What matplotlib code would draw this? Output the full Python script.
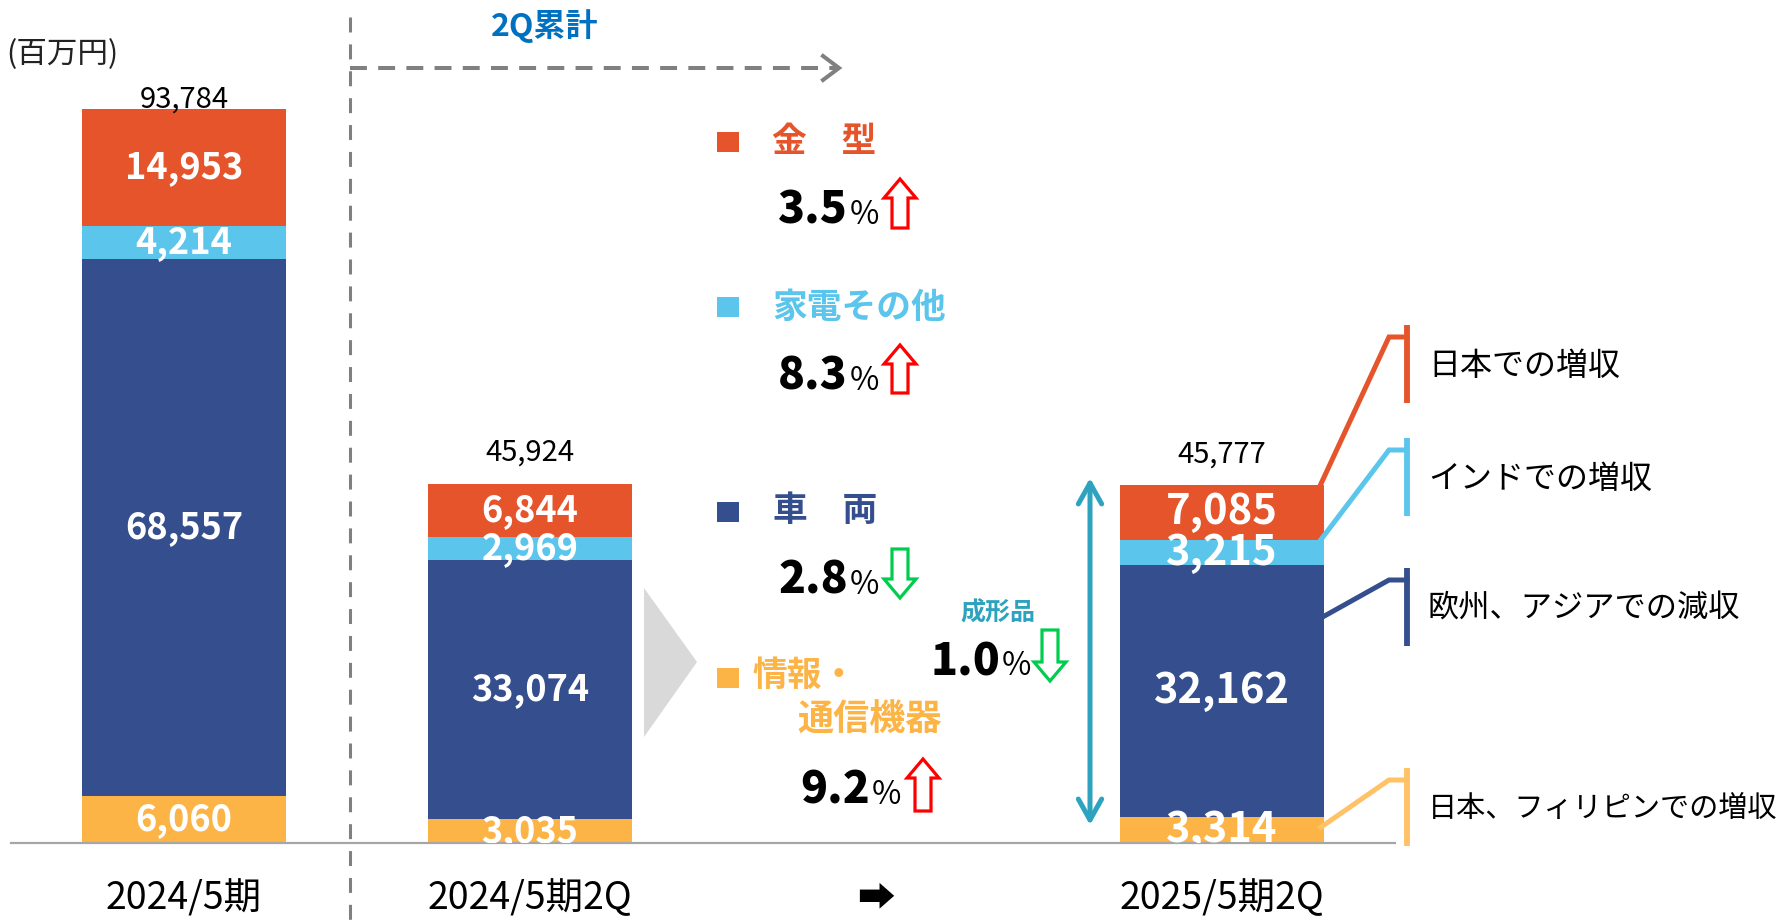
import matplotlib
matplotlib.use("Agg")
import matplotlib.pyplot as plt
from matplotlib.patches import Polygon, Rectangle

plt.rcParams["font.family"] = ["Noto Sans CJK JP", "DejaVu Sans"]

# -------------------------
# DATA
# -------------------------
tick_labels = ["2024/5期", "2024/5期2Q", "➡", "2025/5期2Q"]
bar_pos = [0, 1, 3]
info_comm = [6060, 3035, 3314]      # 情報・通信機器
vehicle = [68557, 33074, 32162]     # 車両
appliance = [4214, 2969, 3215]      # 家電その他
mold = [14953, 6844, 7085]          # 金型
totals = [93784, 45924, 45777]

segment_names = ["金　型", "家電その他", "車　両", "情報・\n通信機器"]
pct_change = [3.5, 8.3, 2.8, 9.2]
pct_up = [True, True, False, True]
molded_change = 1.0
molded_up = False

callout_texts = ["日本での増収", "インドでの増収", "欧州、アジアでの減収", "日本、フィリピンでの増収"]

# -------------------------
# STYLE
# -------------------------
ORANGE = "#E5542B"
CYAN = "#5BC5EC"
NAVY = "#344E8E"
YELLOW = "#FDB446"
TEAL = "#2EA3C0"
BLUE = "#0070C0"
RED = "#FF0000"
GREEN = "#00CC4E"
GRAY = "#808080"

W, H = 1786, 923
fig = plt.figure(figsize=(W / 100, H / 100), dpi=100)
ax = fig.add_axes([11 / W, 80 / H, 1384 / W, 782.7 / H])

bar_w = 0.587
seg_data = [info_comm, vehicle, appliance, mold]
seg_colors = [YELLOW, NAVY, CYAN, ORANGE]
label_size = [26, 26, 30]

bottom = [0, 0, 0]
for vals, col in zip(seg_data, seg_colors):
    ax.bar(bar_pos, vals, bar_w, bottom=bottom, color=col, linewidth=0, zorder=2)
    for i, v in enumerate(vals):
        ax.text(bar_pos[i], bottom[i] + v / 2, f"{v:,}", ha="center", va="center",
                color="white", fontsize=label_size[i], fontweight="bold",
                clip_on=True, zorder=3)
    bottom = [b + v for b, v in zip(bottom, vals)]

# totals above bars
total_gap = [1, 23, 22]
for i, t in enumerate(totals):
    ax.annotate(f"{t:,}", (bar_pos[i], bottom[i]), xytext=(0, total_gap[i]),
                textcoords="offset pixels", ha="center", va="baseline",
                fontsize=21, color="black")

ax.set_xlim(-0.5, 3.5)
ax.set_ylim(0, 100000)
ax.set_xticks(range(len(tick_labels)), tick_labels)
ax.tick_params(axis="x", length=0, pad=26, labelsize=27)
ax.set_yticks([])
for s in ["top", "right", "left"]:
    ax.spines[s].set_visible(False)
ax.spines["bottom"].set_color("#A6A6A6")
ax.spines["bottom"].set_linewidth(1.6)
ax.patch.set_alpha(0)

# -------------------------
# OVERLAY (pixel coordinates, y down)
# -------------------------
ov = fig.add_axes([0, 0, 1, 1])
ov.set_xlim(0, W)
ov.set_ylim(H, 0)
ov.axis("off")


def to_px(x, y):
    return ov.transData.inverted().transform(ax.transData.transform((x, y)))


ov.text(6, 55, "(百万円)", fontsize=22, ha="left", va="center", color="#222222")

# period divider and 2Q arrow
ov.plot([350, 350], [17, H], ls=(0, (4.9, 3.9)), lw=2.2, color=GRAY)
ov.plot([350, 836], [68, 68], ls=(0, (4.2, 2.8)), lw=2.9, color=GRAY)
ov.plot([823, 839, 823], [56, 68, 80], lw=2.9, color=GRAY, solid_joinstyle="miter")
ov.text(545, 26, "2Q累計", fontsize=23, fontweight="bold", color=BLUE,
        ha="center", va="center")

# gray chevron
ov.add_patch(Polygon([(644, 588), (697, 662), (644, 737)], closed=True,
                     fc="#D9D9D9", ec="none"))

# legend squares and names
leg_colors = [ORANGE, CYAN, NAVY, YELLOW]
sq_y = [142, 307, 512, 678]
for col, y in zip(leg_colors, sq_y):
    ov.add_patch(Rectangle((717, y - 10), 22, 20, fc=col, ec="none"))
name_pos = [(772, 141), (772, 307), (773, 510), (752, 675)]
for name, col, (x, y) in zip(segment_names, leg_colors, name_pos):
    first, *rest = name.split("\n")
    ov.text(x, y, first, fontsize=25, fontweight="bold", color=col,
            ha="left", va="center")
    if rest:
        ov.text(797, y + 45, rest[0], fontsize=26, fontweight="bold",
                color=col, ha="left", va="center")


def hollow_arrow(cx, y0, y1, up, color):
    hw, sw, hl = 16, 8, 19
    if up:
        pts = [(cx, y0), (cx + hw, y0 + hl), (cx + sw, y0 + hl), (cx + sw, y1),
               (cx - sw, y1), (cx - sw, y0 + hl), (cx - hw, y0 + hl)]
    else:
        pts = [(cx, y1), (cx + hw, y1 - hl), (cx + sw, y1 - hl), (cx + sw, y0),
               (cx - sw, y0), (cx - sw, y1 - hl), (cx - hw, y1 - hl)]
    ov.add_patch(Polygon(pts, closed=True, fc="white", ec=color, lw=2.3,
                         joinstyle="miter"))


def pct_row(value, up, right_x, base_y, acx, ay0, ay1):
    ov.text(right_x, base_y, f"{value:.1f}", fontsize=32, fontweight="heavy",
            ha="right", va="baseline", color="black")
    ov.text(right_x + 2, base_y, "%", fontsize=23, ha="left", va="baseline",
            color="black")
    hollow_arrow(acx, ay0, ay1, up, RED if up else GREEN)


pct_layout = [(848, 224, 900, 179, 228), (848, 390, 900, 345, 393),
              (848, 594, 900, 549, 598), (870, 804, 923, 759, 811)]
for v, up, lay in zip(pct_change, pct_up, pct_layout):
    pct_row(v, up, *lay)

ov.text(998, 613, "成形品", fontsize=18, fontweight="bold", color=TEAL,
        ha="center", va="center")
pct_row(molded_change, molded_up, 1000, 675, 1050, 630, 681)

# double-headed arrow along last bar
ov.annotate("", xy=(1090, 478), xytext=(1090, 825),
            arrowprops=dict(arrowstyle="<->,head_length=0.75,head_width=0.42",
                            mutation_scale=20, lw=3.6, color=TEAL,
                            shrinkA=0, shrinkB=0))

# callouts on the last bar
x_right = bar_pos[2] + bar_w / 2
i3 = 2
anchor_vals = [
    info_comm[i3] + vehicle[i3] + appliance[i3] + mold[i3],
    info_comm[i3] + vehicle[i3] + appliance[i3],
    info_comm[i3] + vehicle[i3] * 0.79,
    info_comm[i3] * 0.6,
]
call_colors = [ORANGE, CYAN, NAVY, "#FFC266"]
call_size = [23, 23, 22.5, 21]
elbow_y = [337, 450, 580, 780]
for txt, val, col, ey, fs in zip(callout_texts, anchor_vals, call_colors, elbow_y, call_size):
    ax_x, ax_y = to_px(x_right, val)
    ov.plot([ax_x - 3, 1389, 1407], [ax_y, ey, ey], color=col, lw=3.6,
            solid_joinstyle="miter")
    ov.plot([1407, 1407], [ey - 12, ey + 66], color=col, lw=4.2,
            solid_capstyle="butt")
    ov.text(1428, ey + 29, txt, fontsize=fs, ha="left", va="center",
            color="black")

fig.savefig("out.png", dpi=100)
